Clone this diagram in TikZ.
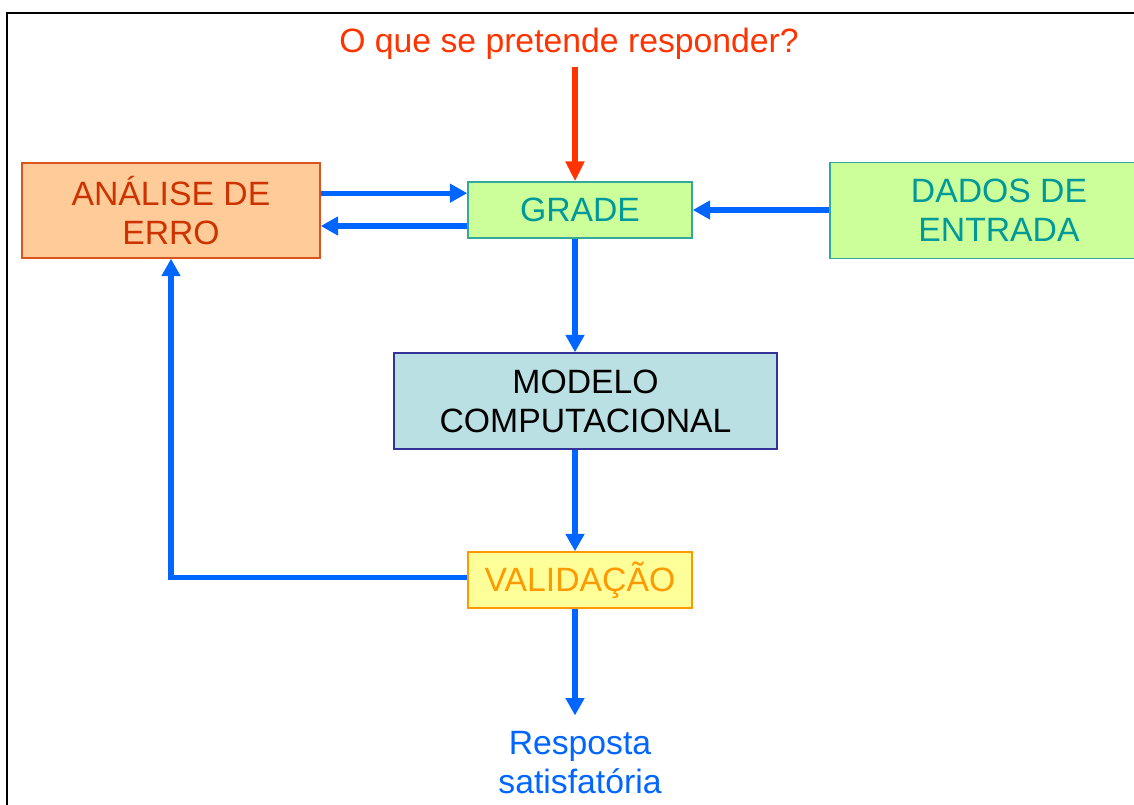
\documentclass[tikz,border=0pt]{standalone}
\usepackage{fontspec}
\setmainfont{Liberation Sans}
\usetikzlibrary{arrows.meta}
\definecolor{flowblue}{HTML}{0066FF}
\definecolor{askred}{HTML}{FF3300}
\definecolor{erroline}{HTML}{D9541E}
\definecolor{errofill}{HTML}{FFCC99}
\definecolor{errotext}{HTML}{CC3300}
\definecolor{gradefill}{HTML}{CCFF99}
\definecolor{gradeline}{HTML}{33AA99}
\definecolor{gradetext}{HTML}{009999}
\definecolor{modelfill}{HTML}{BBE0E3}
\definecolor{modelline}{HTML}{333399}
\definecolor{validfill}{HTML}{FFFF99}
\definecolor{validline}{HTML}{FF9900}

\begin{document}
\begin{tikzpicture}[x=0.75pt,y=-0.75pt,
  every node/.style={font=\fontsize{25.3}{29.3}\selectfont,align=center},
  box/.style={draw,line width=1.1pt,inner sep=0pt},
  flow/.style={draw=flowblue,line width=3.9pt,-{Triangle[length=13pt,width=13.5pt]}},
  ask/.style={draw=askred,line width=3.9pt,-{Triangle[length=15pt,width=13.5pt]}}]
\useasboundingbox (0,0) rectangle (1134,805);
\draw[line width=1.5pt] (7,900) -- (7,13) -- (1200,13);
\coordinate (spine) at (575,0);
\node[inner sep=2pt,text=askred] (ask) at (569,44) {O que se pretende responder?};
\node[box,draw=erroline,fill=errofill,text=errotext,minimum width=223.5pt,minimum height=71.25pt] (erro) at (171,210.5) {ANÁLISE DE\\ERRO};
\node[box,draw=gradeline,fill=gradefill,text=gradetext,minimum width=168pt,minimum height=42pt] (grade) at (580,210) {GRADE};
\node[box,draw=gradeline,fill=gradefill,text=gradetext,minimum width=253.5pt,minimum height=72pt] (dados) at (999,210.5) {DADOS DE\\ENTRADA};
\node[box,draw=modelline,fill=modelfill,minimum width=287.25pt,minimum height=72pt] (modelo) at (585.5,401) {MODELO\\COMPUTACIONAL};
\node[box,draw=validline,fill=validfill,text=validline,minimum width=168pt,minimum height=42pt] (valid) at (580,580) {VALIDAÇÃO};
\node[inner sep=2pt,text=flowblue] (resp) at (580,763) {Resposta\\satisfatória};
\coordinate (e1) at ([yshift=13pt]erro.east);
\coordinate (g1) at ([yshift=-12pt]grade.west);
\draw[ask] ([yshift=-3pt]ask.south -| spine) -- (grade.north -| spine);
\draw[flow] (e1) -- (e1 -| grade.west);
\draw[flow] (g1) -- (g1 -| erro.east);
\draw[flow] (dados.west |- grade.east) -- (grade.east);
\draw[flow] (grade.south -| spine) -- (modelo.north -| spine);
\draw[flow] (modelo.south -| spine) -- (valid.north -| spine);
\draw[flow] ([yshift=2pt]valid.west) -| (erro.south);
\draw[flow] (valid.south -| spine) -- ([yshift=10pt]resp.north -| spine);
\end{tikzpicture}
\end{document}
